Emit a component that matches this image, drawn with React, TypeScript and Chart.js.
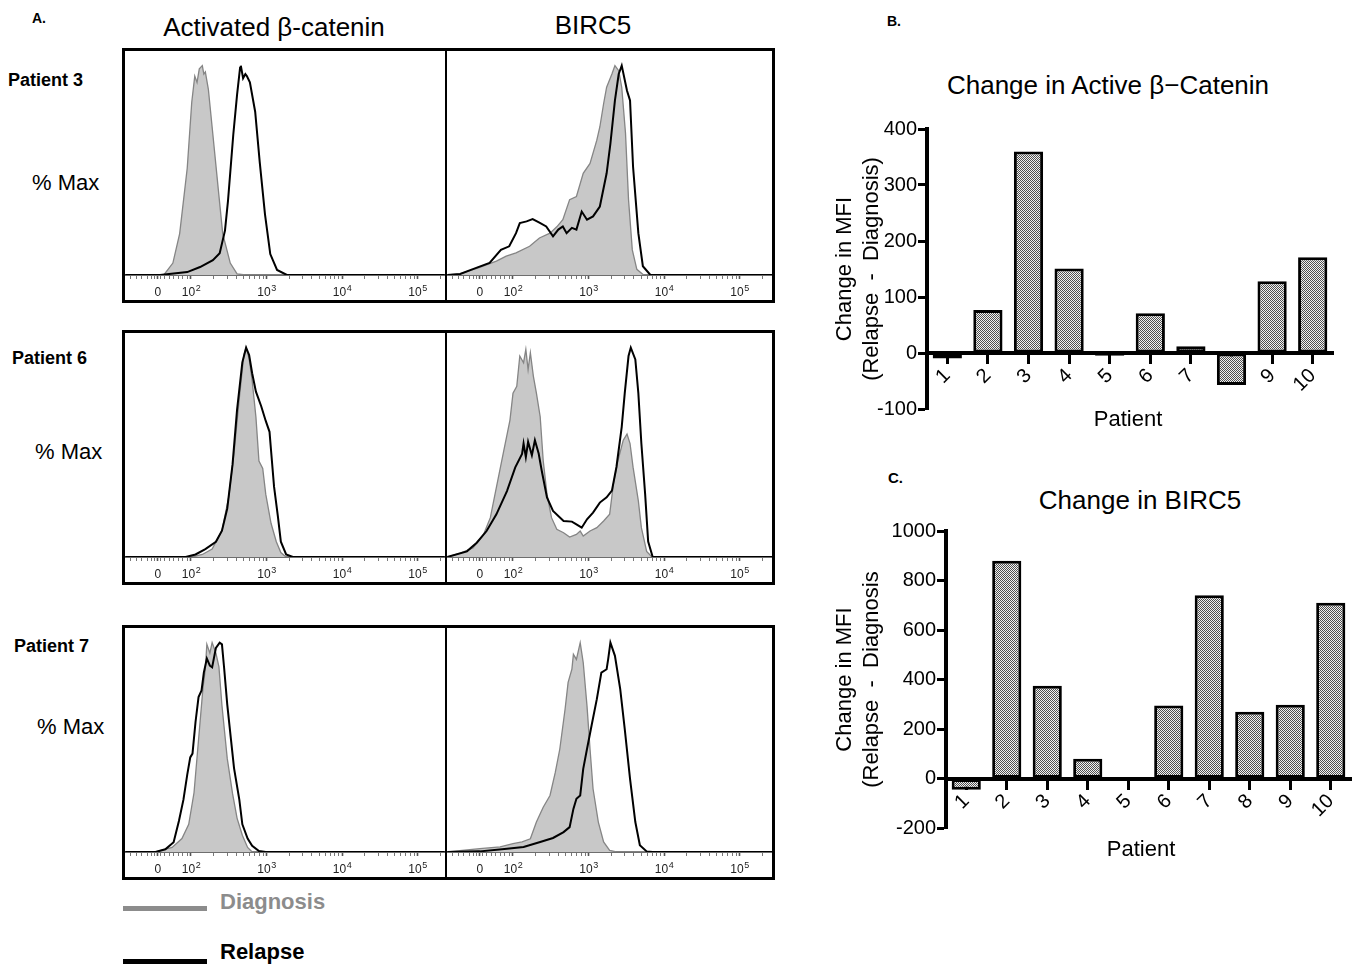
import React, { useEffect, useRef } from 'react';
import { Chart, registerables } from 'chart.js';

Chart.register(...registerables);

const FONT = "Arial, 'Liberation Sans', Helvetica, sans-serif";

// ---------- Panel B / C data ----------
const patients = ['1', '2', '3', '4', '5', '6', '7', '8', '9', '10'];
const cateninChange = [-10, 77, 360, 151, -5, 71, 12, -57, 128, 171];
const birc5Change = [-45, 880, 375, 80, 5, 295, 740, 270, 298, 710];
const cateninYTicks = [-100, 0, 100, 200, 300, 400];
const birc5YTicks = [-200, 0, 200, 400, 600, 800, 1000];

// ---------- Panel A data (x in decades of fluorescence, y in % of max) ----------
const flowTickValues = [1.56, 2, 3, 4, 5];
const flowTickBase = ['0', '10', '10', '10', '10'];
const flowTickExp = ['', '2', '3', '4', '5'];

const p3CatDiag = [[1.13, 0], [1.64, 0], [1.76, 5.7], [1.85, 19.8], [1.95, 51], [2.01, 82.5], [2.05, 95], [2.08, 92], [2.11, 98.5], [2.15, 100], [2.17, 96], [2.19, 97], [2.23, 88.7], [2.29, 67], [2.36, 41.5], [2.42, 19.8], [2.52, 5.7], [2.61, 0.5], [2.72, 0], [5.36, 0]];
const p3CatRel = [[1.13, 0], [1.59, 0], [1.95, 1.4], [2.12, 3.8], [2.29, 7.1], [2.38, 10.4], [2.45, 21.2], [2.49, 35.4], [2.56, 67], [2.61, 86], [2.65, 99], [2.66, 100], [2.69, 94], [2.72, 96], [2.74, 95], [2.78, 92], [2.85, 78], [2.91, 54], [2.98, 29], [3.05, 10], [3.14, 2.4], [3.27, 0], [5.36, 0]];

const p3BirDiag = [[1.13, 0], [1.3, 0.5], [1.55, 3.5], [1.78, 6.6], [1.91, 9], [2.04, 10.6], [2.22, 13.7], [2.35, 17.7], [2.49, 20], [2.58, 23], [2.66, 26.4], [2.75, 36], [2.84, 37.5], [2.93, 48.6], [3.02, 53.3], [3.11, 64.4], [3.15, 70.7], [3.2, 81.8], [3.24, 89.7], [3.31, 96], [3.35, 100], [3.4, 97.6], [3.44, 89.7], [3.49, 67.7], [3.53, 36], [3.58, 12], [3.64, 2.7], [3.73, 0], [5.43, 0]];
const p3BirRel = [[1.13, 0], [1.3, 0.5], [1.46, 2.7], [1.69, 5.8], [1.84, 12], [1.95, 13.7], [2.04, 20], [2.09, 24.8], [2.18, 25.6], [2.26, 26.7], [2.35, 25], [2.44, 23.2], [2.53, 18.5], [2.6, 21.7], [2.66, 23.2], [2.71, 20], [2.78, 22.5], [2.84, 21.7], [2.91, 30.3], [2.98, 26.4], [3.06, 28], [3.15, 32.7], [3.24, 48.6], [3.29, 62.8], [3.35, 83.4], [3.4, 96], [3.44, 100], [3.51, 88], [3.55, 83.4], [3.59, 51.7], [3.66, 20], [3.72, 4.2], [3.82, 0], [5.43, 0]];

const p6CatDiag = [[1.13, 0], [2.01, 0], [2.15, 1.2], [2.28, 3.8], [2.41, 12.6], [2.5, 28.7], [2.57, 49.7], [2.64, 75.9], [2.7, 96.5], [2.73, 100], [2.77, 94.8], [2.81, 84.3], [2.86, 66.8], [2.9, 45.8], [2.95, 42.3], [2.99, 30], [3.06, 16.1], [3.13, 7.3], [3.19, 2.1], [3.26, 0], [5.36, 0]];
const p6CatRel = [[1.13, 0], [1.93, 0], [2.06, 1.2], [2.19, 3.8], [2.33, 7.3], [2.41, 12.6], [2.48, 23.1], [2.55, 44.1], [2.61, 70.3], [2.68, 93], [2.73, 100], [2.77, 96.5], [2.81, 87.8], [2.86, 79], [2.93, 72], [2.99, 65], [3.04, 59.8], [3.06, 51], [3.1, 33.6], [3.15, 19.6], [3.19, 7.3], [3.26, 1.2], [3.35, 0], [5.36, 0]];

const p6BirDiag = [[1.13, 0], [1.3, 1.9], [1.47, 4.3], [1.61, 10.8], [1.7, 18.8], [1.78, 33.3], [1.87, 49.4], [1.96, 65.4], [2.0, 78.3], [2.05, 81.5], [2.09, 96], [2.14, 92.8], [2.17, 99.2], [2.2, 89.5], [2.23, 97.6], [2.27, 86.3], [2.31, 78.3], [2.36, 67], [2.4, 46.1], [2.45, 30], [2.51, 18.8], [2.58, 13.2], [2.67, 11.6], [2.75, 9.5], [2.84, 10.8], [2.89, 12.4], [2.93, 10], [3.02, 12.4], [3.11, 14], [3.2, 17.2], [3.28, 20.4], [3.33, 34.9], [3.39, 46.1], [3.46, 55.8], [3.51, 58.7], [3.55, 54.2], [3.59, 42.9], [3.66, 26.8], [3.7, 14], [3.77, 2.7], [3.84, 0], [5.43, 0]];
const p6BirRel = [[1.13, 0], [1.39, 2.7], [1.52, 6.8], [1.65, 12.4], [1.78, 20.4], [1.92, 31.5], [2.03, 42.8], [2.12, 49.2], [2.14, 54.2], [2.17, 47.7], [2.2, 55], [2.25, 48.6], [2.29, 55.8], [2.34, 49.4], [2.38, 41.3], [2.45, 28.5], [2.53, 22], [2.67, 17.2], [2.78, 16.9], [2.84, 15.6], [2.91, 14], [2.98, 18], [3.06, 21.2], [3.15, 26], [3.24, 28.5], [3.31, 31.7], [3.37, 43], [3.44, 62.2], [3.48, 78.3], [3.53, 96], [3.56, 100], [3.62, 94.4], [3.66, 78.3], [3.7, 54.2], [3.75, 30], [3.79, 7.4], [3.85, 0], [5.43, 0]];

const p7CatDiag = [[1.13, 0], [1.53, 0], [1.75, 2.2], [1.88, 6.4], [1.97, 13.2], [2.04, 28.3], [2.1, 53.6], [2.16, 78.9], [2.19, 87.4], [2.21, 99.2], [2.25, 95], [2.28, 100], [2.33, 95], [2.37, 88.4], [2.41, 70], [2.48, 44.7], [2.55, 28], [2.61, 16.2], [2.68, 8], [2.75, 2.2], [2.81, 0], [5.36, 0]];
const p7CatRel = [[1.13, 0], [1.53, 0], [1.66, 1.3], [1.77, 4.7], [1.84, 14.8], [1.9, 25], [1.95, 36.8], [1.99, 45.2], [2.02, 47], [2.06, 62.1], [2.1, 74], [2.14, 77.2], [2.17, 85.7], [2.21, 92.4], [2.25, 89], [2.28, 88.2], [2.33, 97.5], [2.38, 100], [2.41, 99.2], [2.44, 87.4], [2.48, 70.5], [2.53, 53.6], [2.57, 40.1], [2.64, 25], [2.68, 13.2], [2.75, 6.4], [2.81, 3], [2.9, 0.5], [2.99, 0], [5.36, 0]];

const p7BirDiag = [[1.13, 0], [1.56, 1.6], [1.83, 2.4], [2.0, 4], [2.12, 4.8], [2.23, 6.3], [2.31, 14.3], [2.4, 21.4], [2.49, 27], [2.56, 38], [2.62, 49.2], [2.69, 68.3], [2.73, 81], [2.78, 87.3], [2.8, 94.4], [2.84, 92], [2.89, 100], [2.93, 90.5], [2.98, 69.8], [3.02, 49.2], [3.06, 30.2], [3.13, 14.3], [3.2, 4.8], [3.28, 0.8], [3.37, 0], [5.43, 0]];
const p7BirRel = [[1.13, 0], [1.56, 0.3], [1.92, 1.6], [2.14, 2.4], [2.36, 4.8], [2.53, 6.7], [2.67, 9.5], [2.75, 11.9], [2.8, 20.6], [2.84, 25.4], [2.89, 27], [2.93, 39.7], [2.98, 49.2], [3.04, 60.3], [3.11, 73], [3.17, 85.7], [3.24, 87.3], [3.26, 92], [3.29, 100], [3.35, 93.7], [3.42, 77.8], [3.48, 58.7], [3.55, 34.9], [3.62, 14.3], [3.68, 3.2], [3.77, 0.3], [3.85, 0], [5.43, 0]];

// ---------- helpers ----------
const FLOW_MIN = 1.126;

function minorFlowTicks(): number[] {
  const out: number[] = [1.2, 1.28, 1.35, 1.42, 1.48, 1.52, 1.6, 1.65, 1.71, 1.77, 1.83, 1.89, 1.95];
  for (let d = 2; d <= 5; d++) {
    for (let k = 2; k <= 9; k++) {
      const v = d + Math.log10(k);
      if (v < 5.36) out.push(v);
    }
  }
  return out;
}

// draws "0", "10²"... under the flow axis, with a real raised exponent
const flowLabelPlugin = {
  id: 'flowLabels',
  afterDraw(chart: any) {
    const s = chart.scales.x;
    const ctx = chart.ctx;
    ctx.save();
    ctx.fillStyle = '#222';
    ctx.textBaseline = 'alphabetic';
    const baseY = s.top + 21;
    flowTickValues.forEach((v, i) => {
      const px = s.getPixelForValue(v);
      const base = flowTickBase[i];
      const exp = flowTickExp[i];
      ctx.font = `12px ${FONT}`;
      const wb = ctx.measureText(base).width;
      ctx.font = `9px ${FONT}`;
      const we = exp ? ctx.measureText(exp).width : 0;
      const start = px - (wb + we) / 2;
      ctx.font = `12px ${FONT}`;
      ctx.textAlign = 'left';
      ctx.fillText(base, start, baseY);
      if (exp) {
        ctx.font = `9px ${FONT}`;
        ctx.fillText(exp, start + wb + 0.5, baseY - 5);
      }
    });
    ctx.restore();
  },
};

function FlowPanel({ rel, diag, xMax, width, height }: { rel: number[][]; diag: number[][]; xMax: number; width: number; height: number }) {
  const ref = useRef<HTMLCanvasElement>(null);
  useEffect(() => {
    const major = new Set<number>(flowTickValues);
    const allTicks = [...flowTickValues, ...minorFlowTicks()].filter((v) => v > FLOW_MIN && v < xMax).sort((a, b) => a - b);
    const chart = new Chart(ref.current as HTMLCanvasElement, {
      type: 'line',
      data: {
        datasets: [
          {
            label: 'Relapse',
            data: rel.map(([x, y]) => ({ x, y })),
            borderColor: '#000',
            borderWidth: 2,
            pointRadius: 0,
            fill: false,
            tension: 0,
          },
          {
            label: 'Diagnosis',
            data: diag.map(([x, y]) => ({ x, y })),
            borderColor: '#858585',
            borderWidth: 1.3,
            backgroundColor: '#c8c8c8',
            fill: 'origin',
            pointRadius: 0,
            tension: 0,
          },
        ],
      },
      options: {
        animation: false,
        responsive: false,
        maintainAspectRatio: false,
        events: [],
        layout: { padding: 0 },
        plugins: { legend: { display: false }, tooltip: { enabled: false }, title: { display: false } },
        scales: {
          x: {
            type: 'linear',
            min: FLOW_MIN,
            max: xMax,
            afterBuildTicks: (s: any) => {
              s.ticks = allTicks.map((v) => ({ value: v }));
            },
            afterFit: (s: any) => {
              s.height = 25;
            },
            ticks: {
              autoSkip: false,
              maxRotation: 0,
              minRotation: 0,
              padding: 3,
              font: { family: FONT, size: 11 },
              callback: () => '',
            },
            grid: {
              drawOnChartArea: false,
              drawTicks: true,
              tickLength: 4,
              tickColor: '#555',
              tickWidth: (c: any) => (c.tick && major.has(c.tick.value) ? 1.6 : 0.8),
            },
            border: { display: true, color: '#6e6e6e', width: 2 },
          },
          y: { display: false, min: 0, max: 107 },
        },
      },
      plugins: [flowLabelPlugin],
    } as any);
    return () => chart.destroy();
  }, []);
  return <canvas ref={ref} width={width} height={height} style={{ display: 'block' }} />;
}

function makePattern(): CanvasPattern | string {
  const c = document.createElement('canvas');
  c.width = 2;
  c.height = 2;
  const g = c.getContext('2d');
  if (!g) return '#aaa';
  g.fillStyle = '#f2f2f2';
  g.fillRect(0, 0, 2, 2);
  g.fillStyle = '#505050';
  g.fillRect(0, 0, 1, 1);
  g.fillRect(1, 1, 1, 1);
  const p = g.createPattern(c, 'repeat');
  return p || '#aaa';
}

function BarPanel({ values, yTicks, yTitle, width, height, padding, yWidth }: { values: number[]; yTicks: number[]; yTitle: string[]; width: number; height: number; padding: any; yWidth: number }) {
  const ref = useRef<HTMLCanvasElement>(null);
  useEffect(() => {
    const pattern = makePattern();
    const chart = new Chart(ref.current as HTMLCanvasElement, {
      type: 'bar',
      data: {
        labels: patients,
        datasets: [
          {
            data: values,
            backgroundColor: pattern as any,
            borderColor: '#000',
            borderWidth: 3,
            borderSkipped: false,
            barPercentage: 0.72,
            categoryPercentage: 1,
          },
        ],
      },
      options: {
        animation: false,
        responsive: false,
        maintainAspectRatio: false,
        events: [],
        layout: { padding },
        plugins: { legend: { display: false }, tooltip: { enabled: false }, title: { display: false } },
        scales: {
          x: {
            position: { y: 0 },
            offset: true,
            grid: { offset: false, drawOnChartArea: false, drawTicks: true, tickLength: 9, tickWidth: 3, tickColor: '#000' },
            border: { display: true, color: '#000', width: 4 },
            ticks: { autoSkip: false, minRotation: 45, maxRotation: 45, padding: 2, color: '#000', font: { family: FONT, size: 20 } },
          },
          y: {
            min: yTicks[0],
            max: yTicks[yTicks.length - 1],
            afterBuildTicks: (s: any) => {
              s.ticks = yTicks.map((v) => ({ value: v }));
            },
            afterFit: (s: any) => {
              s.width = yWidth;
            },
            grid: { drawOnChartArea: false, drawTicks: true, tickLength: 9, tickWidth: 3, tickColor: '#000' },
            border: { display: true, color: '#000', width: 4 },
            ticks: { padding: 1, color: '#000', font: { family: FONT, size: 20 }, callback: (v: any) => String(v) },
            title: {
              display: true,
              text: yTitle,
              color: '#000',
              font: { family: FONT, size: 22, lineHeight: 1.2 },
              padding: { top: 10, bottom: 0 },
            },
          },
        },
      },
    } as any);
    return () => chart.destroy();
  }, []);
  return <canvas ref={ref} width={width} height={height} style={{ display: 'block' }} />;
}

function T({ x, y, size, bold, color = '#000', center, children }: { x: number; y: number; size: number; bold?: boolean; color?: string; center?: boolean; children: React.ReactNode }) {
  return (
    <div
      style={{
        position: 'absolute',
        left: x,
        top: y,
        transform: center ? 'translate(-50%, -50%)' : 'translate(0, -50%)',
        fontSize: size,
        fontWeight: bold ? 700 : 400,
        color,
        whiteSpace: 'nowrap',
        lineHeight: 1,
        fontFamily: FONT,
      }}
    >
      {children}
    </div>
  );
}

const rows = [
  { top: 48, label: 'Patient 3', lx: 8, ly: 80, mx: 32, my: 183, cat: [p3CatRel, p3CatDiag], bir: [p3BirRel, p3BirDiag] },
  { top: 330, label: 'Patient 6', lx: 12, ly: 358, mx: 35, my: 452, cat: [p6CatRel, p6CatDiag], bir: [p6BirRel, p6BirDiag] },
  { top: 625, label: 'Patient 7', lx: 14, ly: 646, mx: 37, my: 727, cat: [p7CatRel, p7CatDiag], bir: [p7BirRel, p7BirDiag] },
];

export default function App() {
  return (
    <div style={{ position: 'absolute', left: 0, top: 0, width: 1359, height: 969, overflow: 'hidden', background: '#fff', fontFamily: FONT }}>
      <T x={32} y={18} size={14} bold>A.</T>
      <T x={274} y={27} size={26} center>Activated β-catenin</T>
      <T x={593} y={25} size={26} center>BIRC5</T>

      {rows.map((r) => (
        <React.Fragment key={r.label}>
          <T x={r.lx} y={r.ly} size={18} bold>{r.label}</T>
          <T x={r.mx} y={r.my} size={22}>% Max</T>
          <div style={{ position: 'absolute', left: 122, top: r.top, width: 653, height: 255, border: '3px solid #000', boxSizing: 'border-box' }}>
            <div style={{ position: 'absolute', left: 0, top: 0, width: 320, height: 249 }}>
              <FlowPanel rel={r.cat[0]} diag={r.cat[1]} xMax={5.364} width={320} height={249} />
            </div>
            <div style={{ position: 'absolute', left: 320, top: 0, width: 2, height: 249, background: '#000' }} />
            <div style={{ position: 'absolute', left: 322, top: 0, width: 325, height: 249 }}>
              <FlowPanel rel={r.bir[0]} diag={r.bir[1]} xMax={5.43} width={325} height={249} />
            </div>
          </div>
        </React.Fragment>
      ))}

      <div style={{ position: 'absolute', left: 123, top: 906, width: 84, height: 5, background: '#8c8c8c' }} />
      <T x={220} y={902} size={22} bold color="#8c8c8c">Diagnosis</T>
      <div style={{ position: 'absolute', left: 123, top: 959, width: 84, height: 5, background: '#000' }} />
      <T x={220} y={952} size={22} bold>Relapse</T>

      <T x={887} y={21} size={14} bold>B.</T>
      <T x={1108} y={85} size={26} center>Change in Active β−Catenin</T>
      <div style={{ position: 'absolute', left: 820, top: 110 }}>
        <BarPanel
          values={cateninChange}
          yTicks={cateninYTicks}
          yTitle={['Change in MFI', '(Relapse  -  Diagnosis)']}
          width={525}
          height={313}
          padding={{ top: 19, bottom: 14, left: 2, right: 12 }}
          yWidth={105}
        />
      </div>
      <T x={1128} y={419} size={22} center>Patient</T>

      <T x={888} y={477} size={15} bold>C.</T>
      <T x={1140} y={500} size={26} center>Change in BIRC5</T>
      <div style={{ position: 'absolute', left: 820, top: 510 }}>
        <BarPanel
          values={birc5Change}
          yTicks={birc5YTicks}
          yTitle={['Change in MFI', '(Relapse  -  Diagnosis']}
          width={536}
          height={332}
          padding={{ top: 21, bottom: 14, left: 2, right: 5 }}
          yWidth={124}
        />
      </div>
      <T x={1141} y={849} size={22} center>Patient</T>
    </div>
  );
}
